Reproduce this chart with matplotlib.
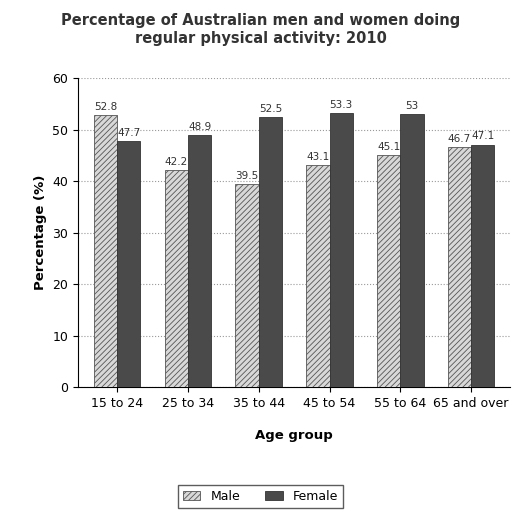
import matplotlib.pyplot as plt
import numpy as np

# data
groups = ['15 to 24', '25 to 34', '35 to 44', '45 to 54', '55 to 64', '65 and over']
male = [52.8, 42.2, 39.5, 43.1, 45.1, 46.7]
female = [47.7, 48.9, 52.5, 53.3, 53, 47.1]
male_labels = ['52.8', '42.2', '39.5', '43.1', '45.1', '46.7']
female_labels = ['47.7', '48.9', '52.5', '53.3', '53', '47.1']

plt.rcParams['hatch.color'] = '#555555'
plt.rcParams['hatch.linewidth'] = 0.6

fig = plt.figure(figsize=(5.21, 5.28), dpi=100)
ax = fig.add_axes([0.15, 0.267, 0.829, 0.585])

x = np.arange(len(groups))
w = 0.33
b1 = ax.bar(x - w/2, male, w, color='#d8d8d8', edgecolor='#555555', hatch='//////', linewidth=0.6, label='Male', zorder=3)
b2 = ax.bar(x + w/2, female, w, color='#4a4a4a', edgecolor='#333333', linewidth=0.6, label='Female', zorder=3)

for r, t in zip(b1, male_labels):
    ax.text(r.get_x() + r.get_width()/2, r.get_height() + 0.6, t, ha='center', va='bottom', fontsize=7.5, color='#333333')
for r, t in zip(b2, female_labels):
    ax.text(r.get_x() + r.get_width()/2, r.get_height() + 0.6, t, ha='center', va='bottom', fontsize=7.5, color='#333333')

ax.set_ylim(0, 60)
ax.set_xlim(-0.55, 5.55)
ax.set_yticks(range(0, 61, 10))
ax.set_xticks(x)
ax.set_xticklabels(groups, fontsize=9)
ax.tick_params(axis='y', labelsize=9)
ax.yaxis.grid(True, linestyle=':', color='#999999', linewidth=0.8, zorder=0)
for s in ['top', 'right']:
    ax.spines[s].set_visible(False)

ax.set_ylabel('Percentage (%)', fontsize=9.5, fontweight='bold')
ax.set_xlabel('Age group', fontsize=9.5, fontweight='bold', labelpad=14)

fig.suptitle('Percentage of Australian men and women doing\nregular physical activity: 2010',
             fontsize=10.5, fontweight='bold', color='#333333', y=0.975)

fig.legend(handles=[b1, b2], loc='center', bbox_to_anchor=(0.5, 0.06), ncol=2,
           frameon=True, fancybox=False, edgecolor='#333333', fontsize=9, handlelength=1.4)

fig.savefig('out.png', dpi=100)
